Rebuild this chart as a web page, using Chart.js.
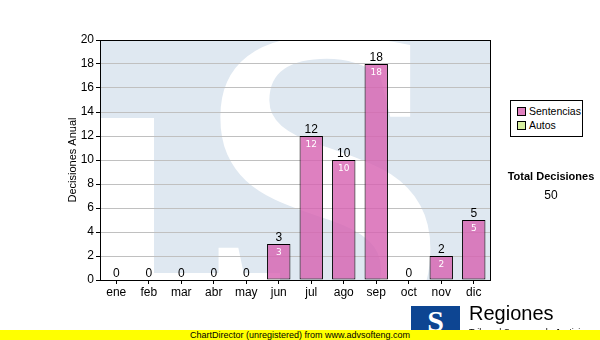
<!DOCTYPE html>
<html>
<head>
  <meta charset="utf-8" />
  <title>Decisiones Anual</title>
  <script src="https://cdn.jsdelivr.net/npm/chart.js"></script>
  <style>
    body { margin: 0; background: #fff; }
    #wrap { position: relative; width: 600px; height: 340px; overflow: hidden; font-family: "Liberation Sans", Arial, sans-serif; }
    #chart { position: absolute; left: 0; top: 0; }
    #legend {
      position: absolute; left: 510px; top: 100px; width: 71px; height: 35px;
      border: 1px solid #000; background: #fff; font-size: 10.5px; line-height: 14px;
    }
    #legend div { padding-left: 6px; white-space: nowrap; }
    #legend div:first-child { margin-top: 3px; }
    #legend span {
      display: inline-block; width: 7px; height: 7px; border: 1px solid #000;
      margin-right: 3px; vertical-align: -1px;
    }
    #total { position: absolute; left: 501px; top: 170px; width: 100px; text-align: center; font-size: 11px; }
    #total b { display: block; }
    #total div { margin-top: 6px; font-size: 12px; }
    #logo {
      position: absolute; left: 411px; top: 306px; width: 49px; height: 26px; background: #0d4592;
      color: #fff; font: bold 30px "Liberation Serif", serif; text-align: center; line-height: 30px; overflow: hidden;
    }
    #reg { position: absolute; left: 469px; top: 302px; font-size: 20px; color: #000; }
    #reg small { display: block; font-size: 9px; margin-top: 2px; }
    #footer {
      position: absolute; left: 0; top: 330px; width: 600px; height: 10px; background: #ffff00;
      font-size: 9px; line-height: 10px; text-align: center;
    }
  </style>
</head>
<body>
<div id="wrap">
  <canvas id="chart" width="600" height="340"></canvas>
  <div id="legend">
    <div><span id="sw0"></span>Sentencias</div>
    <div><span id="sw1"></span>Autos</div>
  </div>
  <div id="total"><b>Total Decisiones</b><div id="totalVal"></div></div>
  <div id="logo">S</div>
  <div id="reg">Regiones<small>Tribunal Supremo de Justicia</small></div>
  <div id="footer">ChartDirector (unregistered) from www.advsofteng.com</div>
</div>
<script>
  var months = ['ene', 'feb', 'mar', 'abr', 'may', 'jun', 'jul', 'ago', 'sep', 'oct', 'nov', 'dic'];
  var sentencias = [0, 0, 0, 0, 0, 3, 12, 10, 18, 0, 2, 5];
  var autos = [0, 0, 0, 0, 0, 0, 0, 0, 0, 0, 0, 0];
  var yTicks = [0, 20, 2];  // min, max, step

  var pink = 'rgba(214,96,176,0.8)';
  var green = '#d8f0a0';
  document.getElementById('sw0').style.background = '#df80bf';
  document.getElementById('sw1').style.background = green;

  var total = 0;
  sentencias.forEach(function (v, i) { total += v + autos[i]; });
  document.getElementById('totalVal').textContent = total;

  // light blue "TS" watermark behind the plot
  var watermark = {
    id: 'watermark',
    beforeDraw: function (chart) {
      var c = chart.ctx, a = chart.chartArea;
      c.save();
      c.beginPath();
      c.rect(a.left, a.top, a.right - a.left, a.bottom - a.top);
      c.clip();
      c.fillStyle = '#dfe8f1';
      c.fillRect(a.left, a.top, a.right - a.left, a.bottom - a.top);
      c.fillStyle = '#fff';
      c.fillRect(a.left, a.top + 78, 54, 200);
      c.fillRect(a.left, a.bottom - 7, 180, 10);
      c.font = 'bold 460px "Liberation Serif", serif';
      c.textAlign = 'center';
      c.textBaseline = 'alphabetic';
      c.fillText('S', a.left + 222, a.bottom + 60);
      c.restore();
    },
    afterDraw: function (chart) {
      var c = chart.ctx, a = chart.chartArea;
      c.save();
      c.strokeStyle = '#000';
      c.lineWidth = 1;
      c.strokeRect(Math.round(a.left) + 0.5, Math.round(a.top) + 0.5, Math.round(a.right - a.left), Math.round(a.bottom - a.top));
      c.restore();
    }
  };

  // value labels: total on top, series value inside
  var labels = {
    id: 'labels',
    afterDatasetsDraw: function (chart) {
      var c = chart.ctx, y = chart.scales.y;
      var meta = chart.getDatasetMeta(0);
      c.save();
      c.textAlign = 'center';
      months.forEach(function (m, i) {
        var x = meta.data[i].x;
        var t = sentencias[i] + autos[i];
        var top = y.getPixelForValue(t);
        c.fillStyle = '#000';
        c.font = '12px "Liberation Sans", Arial, sans-serif';
        c.fillText(String(t), x, top - 3);
        if (sentencias[i] > 0) {
          c.fillStyle = '#fff';
          c.font = '9px "DejaVu Sans", sans-serif';
          c.fillText(String(sentencias[i]), x, y.getPixelForValue(sentencias[i]) + 11);
        }
      });
      c.restore();
    }
  };

  new Chart(document.getElementById('chart').getContext('2d'), {
    type: 'bar',
    data: {
      labels: months,
      datasets: [{
        label: 'Sentencias',
        data: sentencias,
        backgroundColor: pink,
        borderColor: '#000',
        borderWidth: 1,
        borderSkipped: false,
        categoryPercentage: 1,
        barPercentage: 0.72
      }, {
        label: 'Autos',
        data: autos,
        backgroundColor: green,
        borderColor: '#000',
        borderWidth: 1,
        borderSkipped: false,
        categoryPercentage: 1,
        barPercentage: 0.72
      }]
    },
    options: {
      responsive: false,
      animation: false,
      layout: { padding: { left: 66, top: 40, right: 110, bottom: 40 } },
      plugins: { legend: { display: false }, tooltip: { enabled: false } },
      scales: {
        x: {
          stacked: true,
          grid: { drawOnChartArea: false, offset: false, tickLength: 4, tickColor: '#000' },
          border: { color: '#000' },
          ticks: { color: '#000', font: { family: 'Liberation Sans', size: 12 }, padding: 1 },
          afterFit: function (s) { s.height = 20; }
        },
        y: {
          stacked: true,
          min: yTicks[0],
          max: yTicks[1],
          grid: { color: '#c0c0c0', tickLength: 4, tickColor: '#000' },
          border: { color: '#000' },
          ticks: { stepSize: yTicks[2], color: '#000', font: { family: 'Liberation Sans', size: 12 }, padding: 2 },
          title: { display: true, text: 'Decisiones Anual', color: '#000', font: { family: 'Liberation Sans', size: 11 }, padding: 0 },
          afterFit: function (s) { s.width = 34; }
        }
      }
    },
    plugins: [watermark, labels]
  });
</script>
</body>
</html>
